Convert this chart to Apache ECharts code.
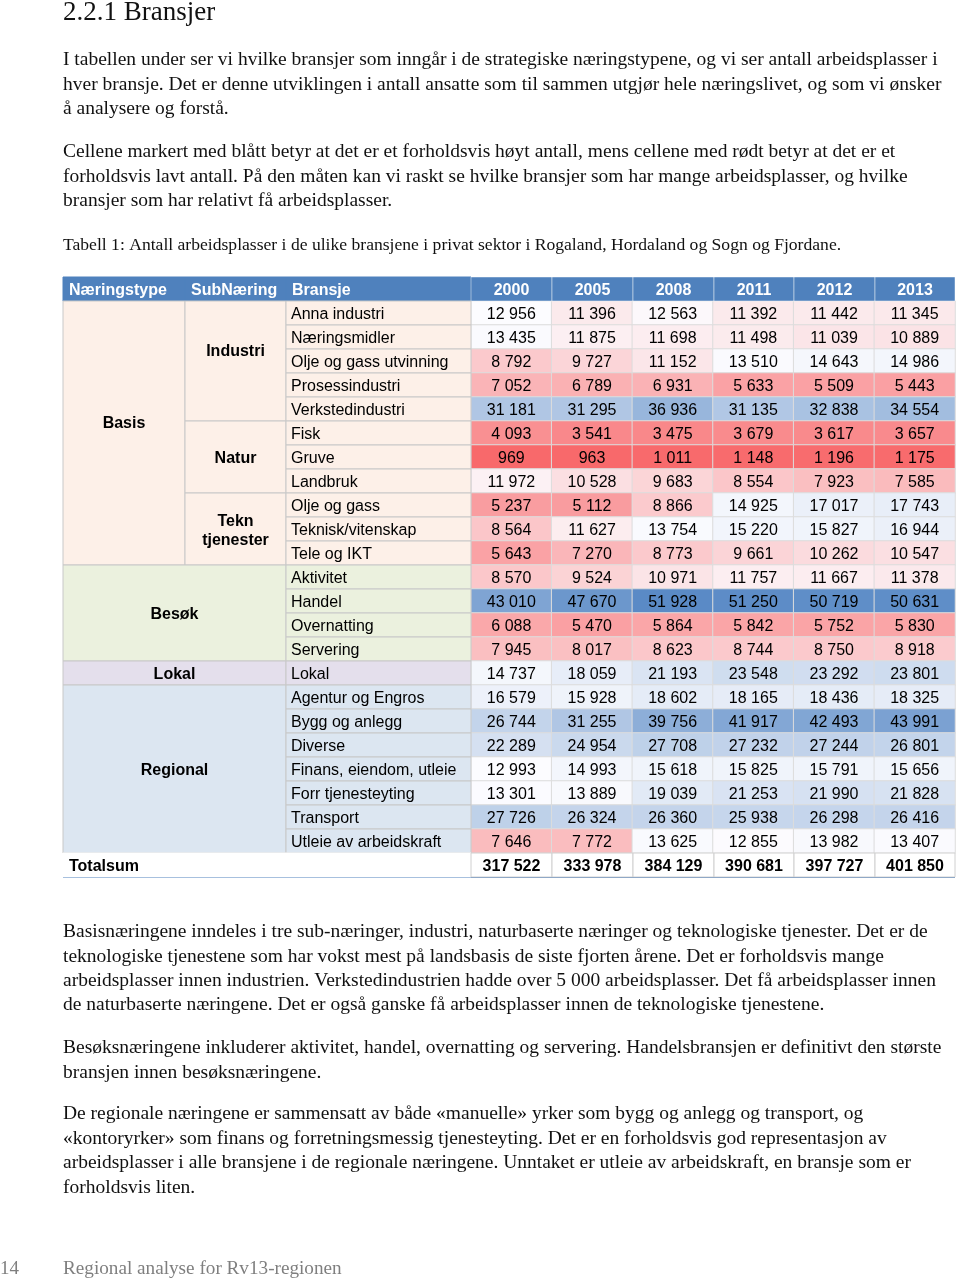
<!DOCTYPE html>
<html><head><meta charset="utf-8">
<script src="https://cdn.jsdelivr.net/npm/echarts@6/dist/echarts.min.js"></script>
<style>html,body{margin:0;padding:0;background:#fff}#c{width:960px;height:1279px}</style>
</head><body><div id="c"></div>
<script>
// ---------- DATA ----------
const years = ['2000','2005','2008','2011','2012','2013'];
const headers = ['Næringstype','SubNæring','Bransje'];
const bransjer = ['Anna industri','Næringsmidler','Olje og gass utvinning','Prosessindustri','Verkstedindustri',
  'Fisk','Gruve','Landbruk','Olje og gass','Teknisk/vitenskap','Tele og IKT',
  'Aktivitet','Handel','Overnatting','Servering','Lokal',
  'Agentur og Engros','Bygg og anlegg','Diverse','Finans, eiendom, utleie','Forr tjenesteyting','Transport','Utleie av arbeidskraft'];
const naeringstyper = ['Basis','Besøk','Lokal','Regional'];
const naeringstypeRows = [11,4,1,7];
const subnaeringer = ['Industri','Natur','Tekn\ntjenester'];
const subnaeringRows = [5,3,3];
const v2000 = [12956,13435,8792,7052,31181,4093,969,11972,5237,8564,5643,8570,43010,6088,7945,14737,16579,26744,22289,12993,13301,27726,7646];
const v2005 = [11396,11875,9727,6789,31295,3541,963,10528,5112,11627,7270,9524,47670,5470,8017,18059,15928,31255,24954,14993,13889,26324,7772];
const v2008 = [12563,11698,11152,6931,36936,3475,1011,9683,8866,13754,8773,10971,51928,5864,8623,21193,18602,39756,27708,15618,19039,26360,13625];
const v2011 = [11392,11498,13510,5633,31135,3679,1148,8554,14925,15220,9661,11757,51250,5842,8744,23548,18165,41917,27232,15825,21253,25938,12855];
const v2012 = [11442,11039,14643,5509,32838,3617,1196,7923,17017,15827,10262,11667,50719,5752,8750,23292,18436,42493,27244,15791,21990,26298,13982];
const v2013 = [11345,10889,14986,5443,34554,3657,1175,7585,17743,16944,10547,11378,50631,5830,8918,23801,18325,43991,26801,15656,21828,26416,13407];
const totalLabel = 'Totalsum';
const totals = [317522,333978,384129,390681,397727,401850];

const titleText = '2.2.1 Bransjer';
const para1 = ['I tabellen under ser vi hvilke bransjer som inngår i de strategiske næringstypene, og vi ser antall arbeidsplasser i',
  'hver bransje. Det er denne utviklingen i antall ansatte som til sammen utgjør hele næringslivet, og som vi ønsker',
  'å analysere og forstå.'];
const para2 = ['Cellene markert med blått betyr at det er et forholdsvis høyt antall, mens cellene med rødt betyr at det er et',
  'forholdsvis lavt antall. På den måten kan vi raskt se hvilke bransjer som har mange arbeidsplasser, og hvilke',
  'bransjer som har relativt få arbeidsplasser.'];
const caption = ['Tabell 1: Antall arbeidsplasser i de ulike bransjene i privat sektor i Rogaland, Hordaland og Sogn og Fjordane.'];
const para3 = ['Basisnæringene inndeles i tre sub-næringer, industri, naturbaserte næringer og teknologiske tjenester. Det er de',
  'teknologiske tjenestene som har vokst mest på landsbasis de siste fjorten årene. Det er forholdsvis mange',
  'arbeidsplasser innen industrien. Verkstedindustrien hadde over 5 000 arbeidsplasser. Det få arbeidsplasser innen',
  'de naturbaserte næringene. Det er også ganske få arbeidsplasser innen de teknologiske tjenestene.'];
const para4 = ['Besøksnæringene inkluderer aktivitet, handel, overnatting og servering. Handelsbransjen er definitivt den største',
  'bransjen innen besøksnæringene.'];
const para5 = ['De regionale næringene er sammensatt av både «manuelle» yrker som bygg og anlegg og transport, og',
  '«kontoryrker» som finans og forretningsmessig tjenesteyting. Det er en forholdsvis god representasjon av',
  'arbeidsplasser i alle bransjene i de regionale næringene. Unntaket er utleie av arbeidskraft, en bransje som er',
  'forholdsvis liten.'];
const pageNumber = '14';
const footerText = 'Regional analyse for Rv13-regionen';

// ---------- LAYOUT / STYLE ----------
const yearSeries = [v2000, v2005, v2008, v2011, v2012, v2013];
const TABLE_LEFT = 63, TABLE_TOP = 277, TABLE_W = 892, ROW_H = 24, TEXT_DY = 2;
const colEdges = [0,122,223,408,489,570,651,731,812,892];
const groupFill = ['#fdf0e8','#ebf1de','#e4dfec','#dce6f1'];
const labelNudge = {Basis:-11, Industri:-11};
const SANS = '"Liberation Sans", Arial, sans-serif';
const SERIF = '"Liberation Serif", "DejaVu Serif", serif';
const LOW = [248,105,107], MID = [252,252,255], HIGH = [90,138,198];

const fmt = n => String(n).replace(/\B(?=(\d{3})+(?!\d))/g, ' ');

// heatmap data
const heatData = [];
yearSeries.forEach((arr, i) => arr.forEach((v, j) => heatData.push([i, j, v])));
const allVals = yearSeries.flat();
const vMin = Math.min(...allVals), vMax = Math.max(...allVals);
const sorted = allVals.slice().sort((a,b)=>a-b);
const vMid = (sorted[Math.floor((sorted.length-1)/2)] + sorted[Math.ceil((sorted.length-1)/2)]) / 2;
const stops = [];
for (let k = 0; k <= 200; k++) {
  const v = vMin + (vMax - vMin) * k / 200;
  let a, b, f;
  if (v <= vMid) { a = LOW; b = MID; f = (v - vMin) / (vMid - vMin); }
  else { a = MID; b = HIGH; f = (v - vMid) / (vMax - vMid); }
  const c = a.map((x, i) => Math.round(x + (b[i] - x) * f));
  stops.push('rgb(' + c.join(',') + ')');
}

// label / header cells
const cells = [];
headers.forEach((h, i) => cells.push({c0:i, c1:i+1, r0:0, r1:1, text:h, kind:'headL'}));
years.forEach((y, i) => cells.push({c0:3+i, c1:4+i, r0:0, r1:1, text:y, kind:'headC'}));
let r = 1;
naeringstyper.forEach((n, gi) => {
  const span = naeringstypeRows[gi];
  if (n === 'Basis') {
    cells.push({c0:0, c1:1, r0:r, r1:r+span, text:n, kind:'group', fill:groupFill[gi], dy:labelNudge[n]||0});
    let rr = r;
    subnaeringer.forEach((s, si) => {
      cells.push({c0:1, c1:2, r0:rr, r1:rr+subnaeringRows[si], text:s, kind:'group', fill:groupFill[gi], dy:labelNudge[s]||0});
      rr += subnaeringRows[si];
    });
  } else {
    cells.push({c0:0, c1:2, r0:r, r1:r+span, text:n, kind:'group', fill:groupFill[gi], dy:labelNudge[n]||0});
  }
  for (let k = 0; k < span; k++) {
    cells.push({c0:2, c1:3, r0:r+k, r1:r+k+1, text:bransjer[r+k-1], kind:'bransje', fill:groupFill[gi]});
  }
  r += span;
});
cells.push({c0:0, c1:3, r0:24, r1:25, text:totalLabel, kind:'totalL'});
totals.forEach((t, i) => cells.push({c0:3+i, c1:4+i, r0:24, r1:25, text:fmt(t), kind:'totalC'}));

const kindStyle = {
  headL:  {fill:'#4f81bd', stroke:'#4f81bd', align:'left', pad:6, font:'bold 16px '+SANS, color:'#fff'},
  headC:  {fill:'#4f81bd', stroke:'rgba(255,255,255,0.45)', align:'center', font:'bold 16px '+SANS, color:'#fff'},
  group:  {stroke:'#c8c8c8', align:'center', font:'bold 16px '+SANS, color:'#000'},
  bransje:{stroke:'#c8c8c8', align:'left', pad:5, font:'16px '+SANS, color:'#000'},
  totalL: {fill:'#fff', stroke:'#ffffff', align:'left', pad:6, font:'bold 16px '+SANS, color:'#000'},
  totalC: {fill:'#fff', stroke:'#d0d0d0', align:'center', font:'bold 16px '+SANS, color:'#000'}
};

function renderCell(params, api) {
  const cell = cells[params.dataIndex];
  const st = kindStyle[cell.kind];
  const p0 = api.coord([colEdges[cell.c0], cell.r0]);
  const p1 = api.coord([colEdges[cell.c1], cell.r1]);
  const x = p0[0], y = p0[1], w = p1[0] - p0[0], h = p1[1] - p0[1];
  const tx = st.align === 'left' ? x + st.pad : x + w / 2;
  return {type:'group', children:[
    {type:'rect', shape:{x:x, y:y, width:w, height:h}, style:{fill:cell.fill || st.fill, stroke:st.stroke, lineWidth:1}},
    {type:'text', style:{text:cell.text, x:tx, y:y + h/2 + TEXT_DY + (cell.dy||0), align:st.align, verticalAlign:'middle',
      font:st.font, fill:st.color, lineHeight:19}}
  ]};
}

// page text as graphic elements
const graphics = [];
function addLines(lines, yStart, step, font, color, x) {
  lines.forEach((t, i) => graphics.push({type:'text', x:x, y:yStart + i*step,
    style:{text:t, font:font, fill:color, verticalAlign:'middle', align:'left'}}));
}
const bodyFont = '19.5px ' + SERIF;
graphics.push({type:'text', x:63, y:13, style:{text:titleText, font:'27px '+SERIF, fill:'#111', verticalAlign:'middle'}});
addLines(para1, 60, 24.5, bodyFont, '#111', 63);
addLines(para2, 152, 24.5, bodyFont, '#111', 63);
addLines(caption, 245, 24, '17.6px ' + SERIF, '#111', 63);
addLines(para3, 932, 24.4, bodyFont, '#111', 63);
addLines(para4, 1048, 24.4, bodyFont, '#111', 63);
addLines(para5, 1114, 24.6, bodyFont, '#111', 63);
graphics.push({type:'text', x:0, y:1269, style:{text:pageNumber, font:'19px '+SERIF, fill:'#7f7f7f', verticalAlign:'middle'}});
graphics.push({type:'text', x:63, y:1269, style:{text:footerText, font:'19.2px '+SERIF, fill:'#7f7f7f', verticalAlign:'middle'}});
// bottom rule of table
graphics.push({type:'rect', shape:{x:TABLE_LEFT, y:TABLE_TOP + 25*ROW_H - 1, width:TABLE_W, height:2}, style:{fill:'#4f81bd'}});

const chart = echarts.init(document.getElementById('c'), null, {renderer:'canvas'});
chart.setOption({
  animation:false,
  backgroundColor:'#fff',
  grid:[
    {left:471, top:TABLE_TOP + ROW_H, width:484, height:23*ROW_H},
    {left:TABLE_LEFT, top:TABLE_TOP, width:TABLE_W, height:25*ROW_H}
  ],
  xAxis:[
    {type:'category', data:years, gridIndex:0, show:false},
    {type:'value', min:0, max:TABLE_W, gridIndex:1, show:false}
  ],
  yAxis:[
    {type:'category', data:bransjer, gridIndex:0, inverse:true, show:false},
    {type:'value', min:0, max:25, gridIndex:1, inverse:true, show:false}
  ],
  visualMap:{type:'continuous', show:false, seriesIndex:0, dimension:2, min:vMin, max:vMax, inRange:{color:stops}},
  graphic:graphics,
  series:[
    {type:'heatmap', xAxisIndex:0, yAxisIndex:0, data:heatData,
      itemStyle:{borderColor:'#dcdcdc', borderWidth:1},
      label:{show:true, formatter:p => fmt(p.value[2]), color:'#000', fontSize:16, fontFamily:SANS, offset:[0, TEXT_DY]},
      emphasis:{disabled:true}},
    {type:'custom', xAxisIndex:1, yAxisIndex:1, renderItem:renderCell, clip:false,
      data:cells.map(c => [colEdges[c.c0], c.r0]), z:3}
  ]
});
</script></body></html>
